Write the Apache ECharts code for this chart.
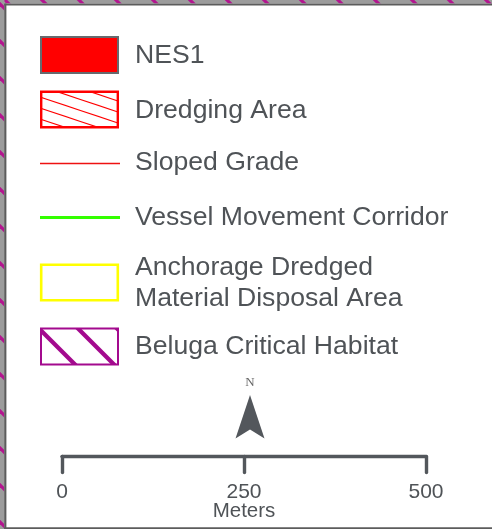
<!DOCTYPE html>
<html>
<head>
<meta charset="utf-8">
<script src="https://cdn.jsdelivr.net/npm/echarts@6/dist/echarts.min.js"></script>
<style>
html,body{margin:0;padding:0;background:#fff;}
#chart{width:492px;height:529px;}
</style>
</head>
<body>
<div id="chart"></div>
<script>
// ---- data ----
const legendLabels = ['NES1', 'Dredging Area', 'Sloped Grade', 'Vessel Movement Corridor', 'Anchorage Dredged\nMaterial Disposal Area', 'Beluga Critical Habitat'];
const legendKinds = ['fill', 'hatchThin', 'lineThin', 'lineThick', 'outline', 'hatchThick'];
const legendColors = ['#ff0000', '#ff0000', '#ee1111', '#33ff00', '#ffff00', '#a30a8e'];
const scaleTicks = [0, 250, 500];
const scaleUnit = 'Meters';
const northLabel = 'N';

// ---- layout ----
const rowCenters = [55, 109.5, 163.5, 217.5, 282.5, 346.5];
const textOffsets = [1, 1.5, -0.5, 0.5, 0.5, 0.5];
const symX = 40, symW = 79, symH = 38;
const textX = 135;
const textColor = '#4f5357';
const dark = '#53575c';

function hatchTile(w, h, bg, color, lw, offset) {
  const c = document.createElement('canvas');
  c.width = w; c.height = h;
  const ctx = c.getContext('2d');
  if (bg) { ctx.fillStyle = bg; ctx.fillRect(0, 0, w, h); }
  ctx.strokeStyle = color; ctx.lineWidth = lw;
  for (let k = -4; k <= 4; k++) {
    ctx.beginPath();
    ctx.moveTo(-w, offset + (k - 1) * h);
    ctx.lineTo(2 * w, offset + (k + 2) * h);
    ctx.stroke();
  }
  return c;
}

const thinHatch = hatchTile(33, 11, '#ffffff', '#ff0000', 1.1, 6.7);
const thickHatch = hatchTile(39, 39, '#ffffff', '#a30a8e', 4.2, 16.5);
const borderHatchTop = hatchTile(37, 37, '#9c9c9c', '#b3158f', 3.2, 32);
const borderHatchLeft = hatchTile(37, 37, '#9c9c9c', '#b3158f', 3.2, 4);

const graphics = [];
graphics.push({ type: 'rect', shape: { x: 0, y: 0, width: 492, height: 529 }, style: { fill: '#ffffff' }, silent: true });
// border bands
graphics.push({ type: 'rect', shape: { x: 0, y: 0, width: 492, height: 3.6 }, style: { fill: { image: borderHatchTop, repeat: 'repeat' } }, silent: true });
graphics.push({ type: 'rect', shape: { x: 0, y: 0, width: 4.4, height: 529 }, style: { fill: { image: borderHatchLeft, repeat: 'repeat' } }, silent: true });
graphics.push({ type: 'rect', shape: { x: 4.4, y: 3.4, width: 487.6, height: 2 }, style: { fill: '#5c5c5c' }, silent: true });
graphics.push({ type: 'rect', shape: { x: 4.2, y: 3.4, width: 2.2, height: 525.6 }, style: { fill: '#5c5c5c' }, silent: true });
graphics.push({ type: 'rect', shape: { x: 4.2, y: 527.3, width: 487.8, height: 1.7 }, style: { fill: '#5c5c5c' }, silent: true });

legendLabels.forEach((label, i) => {
  const cy = rowCenters[i];
  const kind = legendKinds[i];
  const col = legendColors[i];
  const top = cy - symH / 2;
  if (kind === 'fill') {
    graphics.push({ type: 'rect', shape: { x: symX + 1, y: top + 1, width: symW - 2, height: symH - 2 }, style: { fill: col, stroke: '#666a6e', lineWidth: 2 } });
  } else if (kind === 'hatchThin') {
    graphics.push({ type: 'rect', shape: { x: symX + 1.2, y: top + 1.2, width: symW - 2.4, height: symH - 2.4 }, style: { fill: { image: thinHatch, repeat: 'repeat' }, stroke: col, lineWidth: 2.4 } });
  } else if (kind === 'hatchThick') {
    graphics.push({ type: 'rect', shape: { x: symX + 1, y: top + 1, width: symW - 2, height: symH - 2 }, style: { fill: { image: thickHatch, repeat: 'repeat' }, stroke: col, lineWidth: 2 } });
  } else if (kind === 'outline') {
    graphics.push({ type: 'rect', shape: { x: symX + 1.2, y: top + 1.2, width: symW - 2.4, height: symH - 2.4 }, style: { fill: '#ffffff', stroke: col, lineWidth: 2.6 } });
  } else if (kind === 'lineThin') {
    graphics.push({ type: 'line', shape: { x1: symX, y1: cy, x2: symX + 80, y2: cy }, style: { stroke: col, lineWidth: 1.3 } });
  } else if (kind === 'lineThick') {
    graphics.push({ type: 'line', shape: { x1: symX, y1: cy, x2: symX + 80, y2: cy }, style: { stroke: col, lineWidth: 2.8 } });
  }
  graphics.push({
    type: 'text', x: textX, y: cy + textOffsets[i],
    style: { text: label, fill: textColor, font: '26.6px "Liberation Sans", Arial, sans-serif', verticalAlign: 'middle', align: 'left', lineHeight: 30.5 }
  });
});

// north arrow
graphics.push({ type: 'text', x: 250, y: 382.5, style: { text: northLabel, fill: '#666666', font: '13px "Liberation Serif", "DejaVu Serif", serif', align: 'center', verticalAlign: 'middle' } });
graphics.push({ type: 'polygon', shape: { points: [[250, 395], [235.5, 438.5], [250, 429.5], [264.5, 438.5]] }, style: { fill: dark } });

const chart = echarts.init(document.getElementById('chart'));
chart.setOption({
  animation: false,
  backgroundColor: '#ffffff',
  graphic: graphics,
  grid: { left: 62, right: 66, top: 420, height: 36.5, containLabel: false },
  xAxis: {
    type: 'value', min: scaleTicks[0], max: scaleTicks[scaleTicks.length - 1], interval: scaleTicks[1] - scaleTicks[0],
    z: 10,
    axisLine: { show: true, onZero: false, lineStyle: { color: dark, width: 3.4 } },
    axisTick: { show: true, length: 16, lineStyle: { color: dark, width: 3.4, cap: 'round' } },
    axisLabel: { show: true, fontSize: 21, color: textColor, fontFamily: '"Liberation Sans", Arial, sans-serif', margin: 25.5 },
    splitLine: { show: false },
    name: scaleUnit, nameLocation: 'middle', nameGap: 55, nameMoveOverlap: false,
    nameTextStyle: { fontSize: 20.5, color: textColor, fontFamily: '"Liberation Sans", Arial, sans-serif', verticalAlign: 'middle' }
  },
  yAxis: { type: 'value', show: false, min: 0, max: 1 },
  series: [{ type: 'line', data: [], silent: true }]
});
</script>
</body>
</html>
